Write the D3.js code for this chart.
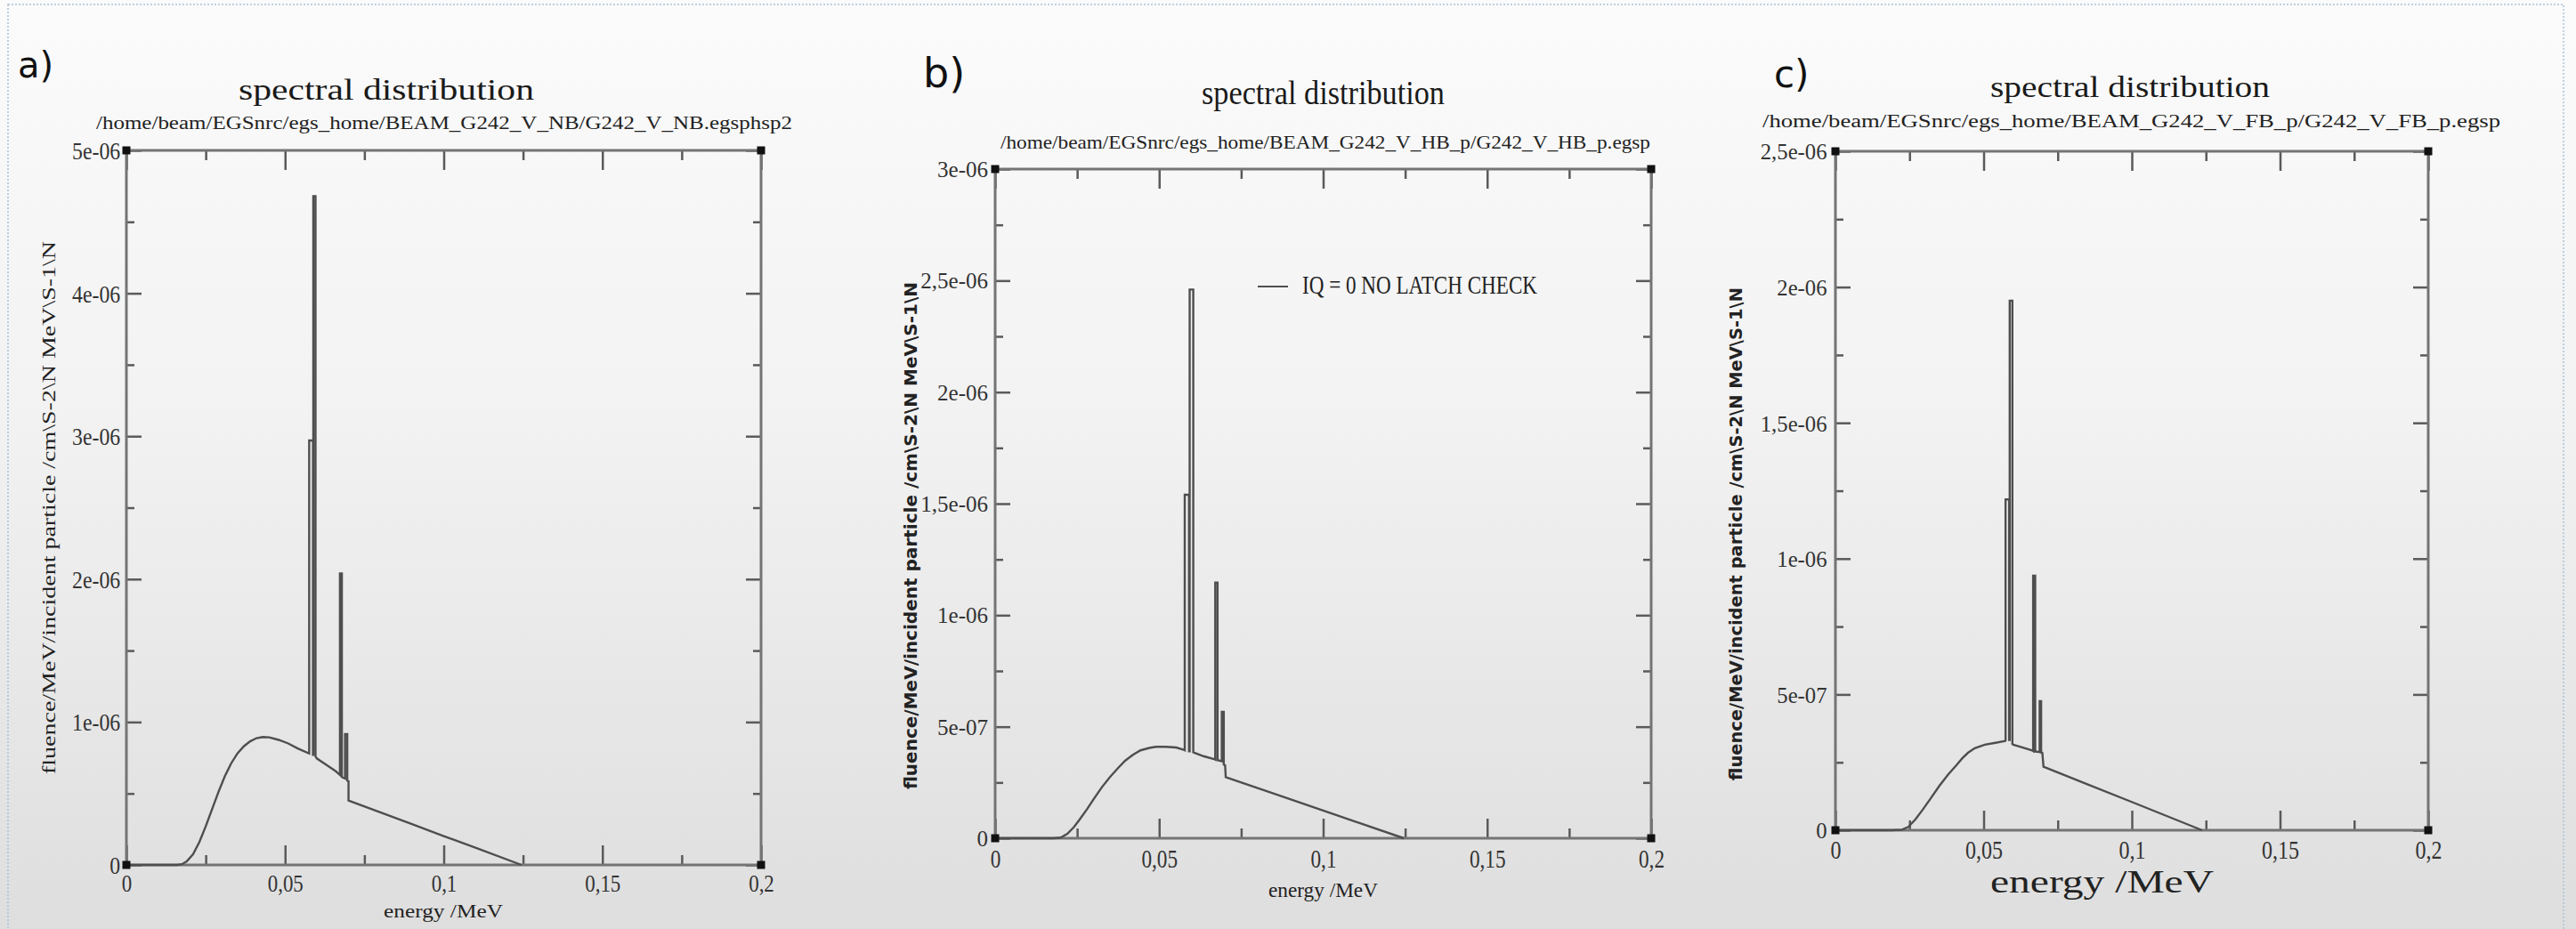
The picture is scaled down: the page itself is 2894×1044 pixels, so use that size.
<!DOCTYPE html>
<html>
<head>
<meta charset="utf-8">
<script src="https://cdn.jsdelivr.net/npm/d3@7"></script>
<style>
    html, body { margin: 0; padding: 0; background: #f2f2f2; }
    svg { display: block; }
</style>
</head>
<body>
<script>
const UNIT = 1e-6;   // fluence arrays are in units of 1e-6
const SERIF = "'Liberation Serif', 'DejaVu Serif', serif";
const SANS = "'DejaVu Sans', 'Open Sans', sans-serif";

const y_title = "fluence/MeV/incident particle /cm\\S-2\\N MeV\\S-1\\N";
const x_title = "energy /MeV";
const title = "spectral distribution";

// a) NB
const energy_a = [0, 0.016, 0.0175, 0.019, 0.021, 0.023, 0.025, 0.027, 0.029, 0.031,
    0.033, 0.035, 0.037, 0.039, 0.041, 0.043, 0.045, 0.048, 0.051, 0.054,
    0.0576, 0.0576, 0.0588, 0.0588, 0.0589, 0.0589, 0.0596, 0.0596, 0.060, 0.063,
    0.066, 0.0673, 0.0673, 0.0679, 0.0679, 0.0689, 0.0689, 0.0696, 0.0696, 0.0700,
    0.0700, 0.080, 0.090, 0.100, 0.110, 0.1245];
const fluence_a = [0, 0, 0.005, 0.025, 0.075, 0.16, 0.27, 0.39, 0.51, 0.62,
    0.71, 0.78, 0.83, 0.865, 0.887, 0.895, 0.893, 0.875, 0.85, 0.815,
    0.78, 2.97, 2.97, 0.77, 0.77, 4.68, 4.68, 0.76, 0.745, 0.70,
    0.655, 0.63, 2.04, 2.04, 0.615, 0.605, 0.915, 0.915, 0.59, 0.585,
    0.45, 0.368, 0.285, 0.202, 0.12, 0];

// b) HB
const energy_b = [0, 0.0178, 0.020, 0.022, 0.024, 0.0256, 0.028, 0.0303, 0.0325, 0.035,
    0.0375, 0.0396, 0.042, 0.0443, 0.047, 0.049, 0.052, 0.0552, 0.0577, 0.0578,
    0.0578, 0.0591, 0.0591, 0.0593, 0.0593, 0.0604, 0.0604, 0.0607, 0.0635, 0.0670,
    0.0671, 0.0671, 0.0678, 0.0678, 0.0691, 0.0691, 0.0697, 0.0697, 0.0701, 0.0703,
    0.085, 0.100, 0.1246];
const fluence_b = [0, 0, 0.003, 0.02, 0.05, 0.081, 0.13, 0.181, 0.228, 0.274,
    0.315, 0.347, 0.374, 0.394, 0.405, 0.41, 0.41, 0.407, 0.396, 0.395,
    1.54, 1.54, 0.39, 0.39, 2.46, 2.46, 0.385, 0.383, 0.368, 0.354,
    0.353, 1.146, 1.146, 0.35, 0.345, 0.567, 0.567, 0.33, 0.327, 0.274,
    0.2, 0.124, 0];

// c) FB
const energy_c = [0, 0.019, 0.0225, 0.0246, 0.027, 0.0294, 0.032, 0.0351, 0.038, 0.0408,
    0.0428, 0.0447, 0.047, 0.0504, 0.054, 0.0573, 0.0574, 0.0574, 0.0586, 0.0586,
    0.0588, 0.0588, 0.0597, 0.0597, 0.0600, 0.063, 0.0666, 0.0667, 0.0667, 0.0674,
    0.0674, 0.0689, 0.0689, 0.0694, 0.0694, 0.0698, 0.0702, 0.085, 0.100, 0.1237];
const fluence_c = [0, 0, 0.002, 0.012, 0.04, 0.075, 0.115, 0.164, 0.205, 0.239,
    0.265, 0.285, 0.302, 0.315, 0.322, 0.329, 0.33, 1.218, 1.218, 0.332,
    0.332, 1.95, 1.95, 0.318, 0.315, 0.305, 0.293, 0.292, 0.937, 0.937,
    0.29, 0.288, 0.475, 0.475, 0.286, 0.285, 0.234, 0.169, 0.104, 0];

const x_ticks = [0, 0.05, 0.1, 0.15, 0.2];
const x_minor = [0.025, 0.075, 0.125, 0.175];
const y_ticks_a = [0, 1e-6, 2e-6, 3e-6, 4e-6, 5e-6];
const y_minor_a = [0.5e-6, 1.5e-6, 2.5e-6, 3.5e-6, 4.5e-6];
const y_ticks_b = [0, 5e-7, 1e-6, 1.5e-6, 2e-6, 2.5e-6, 3e-6];
const y_minor_b = [2.5e-7, 7.5e-7, 1.25e-6, 1.75e-6, 2.25e-6, 2.75e-6];
const y_ticks_c = [0, 5e-7, 1e-6, 1.5e-6, 2e-6, 2.5e-6];
const y_minor_c = [2.5e-7, 7.5e-7, 1.25e-6, 1.75e-6, 2.25e-6];

const paths_a = "/home/beam/EGSnrc/egs_home/BEAM_G242_V_NB/G242_V_NB.egsphsp2";
const paths_b = "/home/beam/EGSnrc/egs_home/BEAM_G242_V_HB_p/G242_V_HB_p.egsp";
const paths_c = "/home/beam/EGSnrc/egs_home/BEAM_G242_V_FB_p/G242_V_FB_p.egsp";
const legend_b = "IQ = 0 NO LATCH CHECK";

function fmt_x(d) {
    return String(d).replace(".", ",");
}

function fmt_y(d) {
    if (d === 0) return "0";
    let [m, e] = d.toExponential().split("e");
    let n = Math.abs(+e);
    return m.replace(".", ",") + "e" + (+e < 0 ? "-" : "+") + (n < 10 ? "0" : "") + n;
}

function add_text(g, str, o) {
    let t = g.append("text")
        .attr("x", o.x)
        .attr("y", o.y)
        .style("font-family", o.font || SERIF)
        .style("font-size", o.size + "px")
        .style("fill", o.fill || "#222")
        .text(str);
    if (o.weight) t.style("font-weight", o.weight);
    if (o.length) t.attr("textLength", o.length).attr("lengthAdjust", "spacingAndGlyphs");
    if (o.rotate) t.attr("transform", `rotate(-90, ${o.x}, ${o.y})`);
    return t;
}

let panels = [
    {
        tag: "a)", energy: energy_a, fluence: fluence_a, sub: paths_a,
        y_max: 5e-6, y_ticks: y_ticks_a, y_minor: y_minor_a,
        box: {left: 142, right: 855, top: 169, bottom: 972},
        xl: {dy: 30, size: 27, sx: 0.85}, yl: {dx: -8, size: 28, sx: 0.85},
        t_tag: {x: 20, y: 87, size: 40},
        t_title: {x: 268, y: 112, size: 33, length: 332},
        t_sub: {x: 108, y: 145, size: 20, length: 782},
        t_x: {x: 431, y: 1031, size: 22, length: 134},
        t_y: {x: 62, y: 870, size: 22, length: 599}
    },
    {
        tag: "b)", energy: energy_b, fluence: fluence_b, sub: paths_b,
        y_max: 3e-6, y_ticks: y_ticks_b, y_minor: y_minor_b,
        box: {left: 1118, right: 1855, top: 190, bottom: 942},
        xl: {dy: 33, size: 29, sx: 0.8}, yl: {dx: -8, size: 25, sx: 1},
        t_tag: {x: 1037, y: 98, size: 46},
        t_title: {x: 1350, y: 117, size: 38, length: 273},
        t_sub: {x: 1124, y: 167, size: 21, length: 730},
        t_x: {x: 1425, y: 1008, size: 24, length: 123},
        t_y: {x: 1030, y: 887, size: 20, length: 570, font: SANS, weight: "bold"},
        legend: {x1: 1413, x2: 1447, y: 322, tx: 1463, ty: 330, size: 29, length: 264}
    },
    {
        tag: "c)", energy: energy_c, fluence: fluence_c, sub: paths_c,
        y_max: 2.5e-6, y_ticks: y_ticks_c, y_minor: y_minor_c,
        box: {left: 2062, right: 2728, top: 170, bottom: 933},
        xl: {dy: 32, size: 30, sx: 0.8}, yl: {dx: -10, size: 26, sx: 0.95},
        t_tag: {x: 1993, y: 98, size: 42},
        t_title: {x: 2236, y: 109, size: 34, length: 314},
        t_sub: {x: 1980, y: 143, size: 20, length: 829},
        t_x: {x: 2236, y: 1003, size: 36, length: 251},
        t_y: {x: 1957, y: 877, size: 20, length: 554, font: SANS, weight: "bold"}
    }
];

function draw_panel(svg, p) {
    let b = p.box;
    let x = d3.scaleLinear().domain([0, 0.2]).range([b.left, b.right]);
    let y = d3.scaleLinear().domain([0, p.y_max]).range([b.bottom, b.top]);
    let g = svg.append("g");

    add_text(g, p.tag, Object.assign({font: SANS, fill: "#111"}, p.t_tag));
    add_text(g, title, Object.assign({fill: "#1a1a1a"}, p.t_title));
    add_text(g, p.sub, Object.assign({fill: "#222"}, p.t_sub));
    add_text(g, x_title, Object.assign({fill: "#222"}, p.t_x));
    add_text(g, y_title, Object.assign({fill: "#222", rotate: true}, p.t_y));

    // frame ticks, all pointing inwards
    let axes = [
        [d3.axisBottom(x), b.bottom, "x", x_ticks, x_minor, 22, 11],
        [d3.axisTop(x), b.top, "x", x_ticks, x_minor, 22, 11],
        [d3.axisLeft(y), b.left, "y", p.y_ticks, p.y_minor, 17, 9],
        [d3.axisRight(y), b.right, "y", p.y_ticks, p.y_minor, 17, 9]
    ];
    axes.forEach(([axis, pos, dir, major, minor, len, mlen], i) => {
        let tr = dir === "x" ? `translate(0,${pos})` : `translate(${pos},0)`;
        let gm = g.append("g").attr("transform", tr)
            .call(axis.tickValues(minor).tickSize(-mlen).tickSizeOuter(0).tickFormat(""));
        gm.select(".domain").remove();
        let ga = g.append("g").attr("transform", tr)
            .call(axis.tickValues(major).tickSize(-len).tickSizeOuter(0)
                .tickFormat(i === 0 ? fmt_x : i === 2 ? fmt_y : ""));
        ga.select(".domain").remove();
        if (i === 0) {
            ga.selectAll("text")
                .attr("y", p.xl.dy).attr("dy", null)
                .attr("transform", `scale(${p.xl.sx},1)`)
                .style("font-family", SERIF).style("font-size", p.xl.size + "px")
                .style("fill", "#333");
        }
        if (i === 2) {
            ga.selectAll("text")
                .attr("x", p.yl.dx).attr("dy", "0.34em")
                .attr("transform", `scale(${p.yl.sx},1)`)
                .style("font-family", SERIF).style("font-size", p.yl.size + "px")
                .style("fill", "#333");
        }
    });
    g.selectAll(".tick line").attr("stroke", "#5a5a5a").attr("stroke-width", 2.5);

    g.append("rect")
        .attr("x", b.left).attr("y", b.top)
        .attr("width", b.right - b.left).attr("height", b.bottom - b.top)
        .attr("fill", "none")
        .attr("stroke", "#747474")
        .attr("stroke-width", 3);

    let line = d3.line()
        .x(d => x(d[0]))
        .y(d => y(d[1] * UNIT));

    g.append("path")
        .datum(d3.zip(p.energy, p.fluence))
        .attr("d", line)
        .attr("fill", "none")
        .attr("stroke", "#4e4e4e")
        .attr("stroke-width", 2.4)
        .attr("stroke-linejoin", "miter");

    // corner markers
    let corners = [[0, 0], [0.2, 0], [0, p.y_max], [0.2, p.y_max]];
    g.selectAll(".corner")
        .data(corners)
        .join("rect")
        .attr("x", d => x(d[0]) - 4.5)
        .attr("y", d => y(d[1]) - 4.5)
        .attr("width", 9)
        .attr("height", 9)
        .attr("fill", "#111");

    if (p.legend) {
        let l = p.legend;
        g.append("line")
            .attr("x1", l.x1).attr("x2", l.x2)
            .attr("y1", l.y).attr("y2", l.y)
            .attr("stroke", "#505050")
            .attr("stroke-width", 2);
        add_text(g, legend_b, {x: l.tx, y: l.ty, size: l.size, length: l.length, fill: "#222"});
    }
}

function display_figure(width = 2894, height = 1044) {
    let svg = d3.select("body").append("svg")
        .attr("width", width)
        .attr("height", height);

    let grad = svg.append("defs").append("linearGradient")
        .attr("id", "bg")
        .attr("x1", 0).attr("y1", 0).attr("x2", 0).attr("y2", 1);
    grad.append("stop").attr("offset", "0%").attr("stop-color", "#fbfbfb");
    grad.append("stop").attr("offset", "45%").attr("stop-color", "#f2f2f2");
    grad.append("stop").attr("offset", "100%").attr("stop-color", "#dedede");

    svg.append("rect")
        .attr("width", width).attr("height", height)
        .attr("fill", "url(#bg)");

    svg.append("rect")
        .attr("x", 9).attr("y", 5)
        .attr("width", 2871).attr("height", 1060)
        .attr("fill", "none")
        .attr("stroke", "#a9c2d8")
        .attr("stroke-width", 1.5)
        .attr("stroke-dasharray", "2,2");

    panels.forEach(p => draw_panel(svg, p));
}

display_figure();
</script>
</body>
</html>
